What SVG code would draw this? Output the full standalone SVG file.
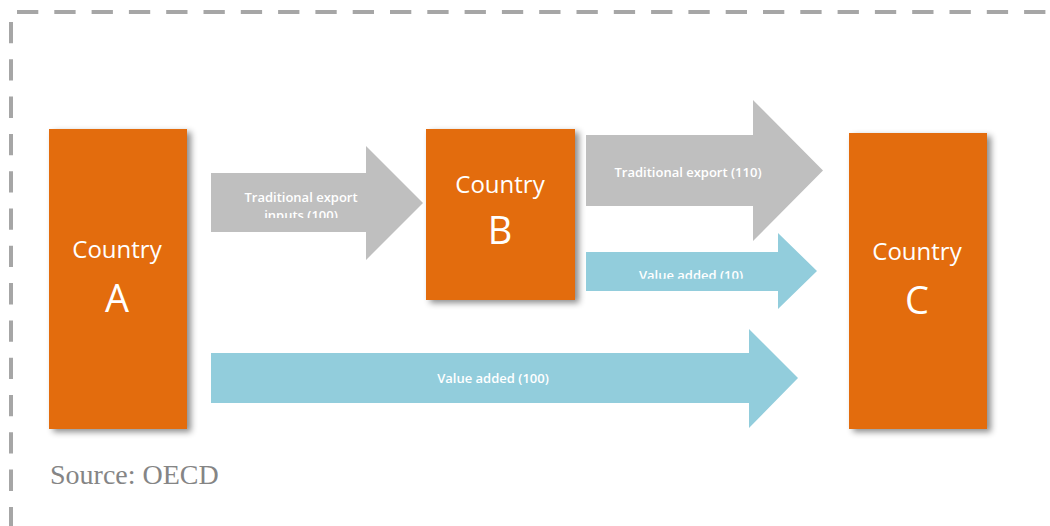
<svg xmlns="http://www.w3.org/2000/svg" width="1050" height="526" viewBox="0 0 1050 526">
  <defs>
    <filter id="shadow" x="-20%" y="-10%" width="150%" height="130%">
      <feDropShadow dx="4" dy="3" stdDeviation="3" flood-color="#000000" flood-opacity="0.45"/>
    </filter>
    <clipPath id="clip1"><rect x="211" y="173" width="212" height="45"/></clipPath>
    <clipPath id="clip3"><rect x="586" y="252" width="231" height="26.8"/></clipPath>
  </defs>
  <style>
    .box { fill: #E36C0A; filter: url(#shadow); }
    .country { font-family: "Open Sans", "Liberation Sans", sans-serif; fill: #FFFFFF; text-anchor: middle; }
    .c1 { font-size: 24px; }
    .c2 { font-size: 38px; }
    .gray { fill: #BFBFBF; }
    .blue { fill: #92CDDC; }
    .lbl { font-family: "Open Sans", "Liberation Sans", sans-serif; font-size: 13px; font-weight: 600; fill: #FFFFFF; text-anchor: middle; }
    .border { stroke: #A6A6A6; stroke-width: 4; stroke-dasharray: 21.3 16; fill: none; }
    .src { font-family: "Liberation Serif", serif; font-size: 28px; fill: #858585; }
  </style>

  <g id="frame">
    <line class="border" x1="17" y1="12" x2="1050" y2="12"/>
    <line class="border" x1="11" y1="22" x2="11" y2="526" stroke-width="3.5"/>
  </g>

  <g id="connectors">
    <g id="arrow-a-b">
      <polygon class="gray" points="211,173 366,173 366,146 423,203 366,260 366,232 211,232"/>
      <g clip-path="url(#clip1)">
        <text class="lbl" x="301" y="202">Traditional export</text>
        <text class="lbl" x="301" y="220">inputs (100)</text>
      </g>
    </g>
    <g id="arrow-b-c-export">
      <polygon class="gray" points="586,135 753,135 753,100 823,170.5 753,241 753,206 586,206"/>
      <text class="lbl" x="688" y="177">Traditional export (110)</text>
    </g>
    <g id="arrow-b-c-va">
      <polygon class="blue" points="586,252 778,252 778,233 817,271 778,309 778,291 586,291"/>
      <g clip-path="url(#clip3)">
        <text class="lbl" x="691" y="280">Value added (10)</text>
      </g>
    </g>
    <g id="arrow-a-c-va">
      <polygon class="blue" points="211,353 749,353 749,329 798,378 749,428 749,403 211,403"/>
      <text class="lbl" x="493" y="383">Value added (100)</text>
    </g>
  </g>

  <g id="country-a">
    <rect class="box" x="49" y="129" width="138" height="300"/>
    <text class="country c1" x="117" y="258">Country</text>
    <text class="country c2" x="117" y="312">A</text>
  </g>

  <g id="country-b">
    <rect class="box" x="426" y="129" width="149" height="171"/>
    <text class="country c1" x="500" y="193">Country</text>
    <text class="country c2" x="500" y="244">B</text>
  </g>

  <g id="country-c">
    <rect class="box" x="849" y="133" width="138" height="296"/>
    <text class="country c1" x="917" y="260">Country</text>
    <text class="country c2" x="917" y="314">C</text>
  </g>

  <text class="src" x="50" y="484">Source: OECD</text>
</svg>
